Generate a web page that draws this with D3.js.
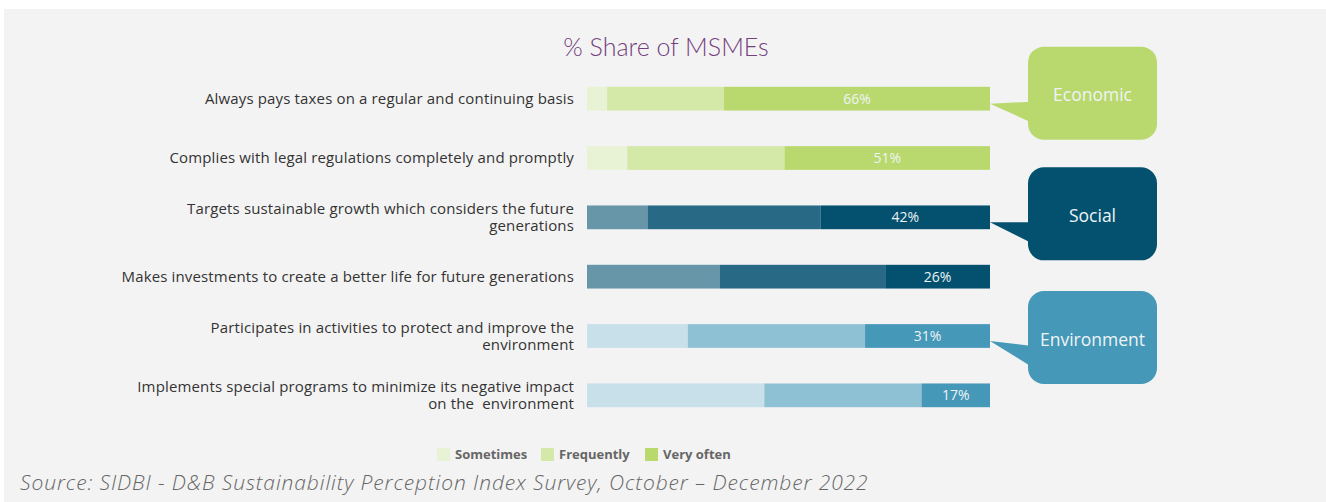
<!DOCTYPE html>
<html>
<head>
<meta charset="utf-8">
<script src="https://cdn.jsdelivr.net/npm/d3@7"></script>
<style>
  body { margin: 0; background: #fff; }
  svg { display: block; font-family: "Open Sans", Lato, sans-serif; }
</style>
</head>
<body>
<script>
// data
const labels = [
  ["Always pays taxes on a regular and continuing basis"],
  ["Complies with legal regulations completely and promptly"],
  ["Targets sustainable growth which considers the future", "generations"],
  ["Makes investments to create a better life for future generations"],
  ["Participates in activities to protect and improve the", "environment"],
  ["Implements special programs to minimize its negative impact", "on the  environment"]
];
const groups = ["Economic", "Economic", "Social", "Social", "Environment", "Environment"];
const sometimes = [5, 10, 15, 33, 25, 44];
const frequently = [29, 39, 43, 41, 44, 39];
const veryOften = [66, 51, 42, 26, 31, 17];
const seriesNames = ["Sometimes", "Frequently", "Very often"];
const categories = ["Economic", "Social", "Environment"];

const palette = {
  Economic: ["#e8f2d4", "#d4e8a7", "#b9d96e"],
  Social: ["#6796a9", "#286a86", "#03516f"],
  Environment: ["#c7e0e9", "#8fc1d4", "#4598b7"]
};

const width = 1326, height = 502;

const svg = d3.select("body").append("svg")
    .attr("width", width)
    .attr("height", height);

svg.append("rect")
    .attr("x", 4).attr("y", 9)
    .attr("width", width - 4).attr("height", height - 9)
    .attr("fill", "#f3f3f3");

const rows = labels.map((l, i) => ({
  i, label: l, group: groups[i],
  Sometimes: sometimes[i], Frequently: frequently[i], "Very often": veryOften[i]
}));

const x = d3.scaleLinear().domain([0, 100]).range([587, 990]);
const y = d3.scaleBand().domain(d3.range(rows.length)).range([69, 425]).paddingInner(0.6).paddingOuter(0.3);

const stack = d3.stack().keys(seriesNames)(rows);

// title
svg.append("text")
    .attr("x", 666).attr("y", 56)
    .attr("text-anchor", "middle")
    .attr("fill", "#743f7e")
    .style("font-family", "Lato, sans-serif")
    .style("font-size", "25px")
    .style("font-weight", 300)
    .text("% Share of MSMEs");

// bars
stack.forEach((layer, k) => {
  svg.append("g").selectAll("rect")
    .data(layer)
    .join("rect")
    .attr("x", d => x(d[0]))
    .attr("width", d => x(d[1]) - x(d[0]))
    .attr("y", (d, i) => y(i))
    .attr("height", y.bandwidth())
    .attr("fill", (d, i) => palette[rows[i].group][k]);
});

// value labels on "Very often"
svg.append("g").selectAll("text")
  .data(stack[2])
  .join("text")
  .attr("x", d => (x(d[0]) + x(d[1])) / 2)
  .attr("y", (d, i) => y(i) + y.bandwidth() / 2 + 5)
  .attr("text-anchor", "middle")
  .attr("fill", "#eef3f5")
  .style("font-size", "14px")
  .text(d => d.data["Very often"] + "%");

// category labels
const lab = svg.append("g").selectAll("text")
  .data(rows)
  .join("text")
  .attr("text-anchor", "end")
  .attr("fill", "#333")
  .style("font-size", "15px")
  .style("letter-spacing", "0.15px")
  .attr("xml:space", "preserve")
  .attr("transform", d => {
    const cy = y(d.i) + y.bandwidth() / 2;
    const off = d.label.length > 1 ? -8 : 0;
    return `translate(574,${cy + off + 5})`;
  });
lab.selectAll("tspan")
  .data(d => d.label)
  .join("tspan")
  .attr("x", 0)
  .attr("dy", (d, i) => i === 0 ? 0 : 16.5)
  .text(d => d);

// callouts
const boxShift = { Economic: -52, Social: -50, Environment: -45 };
categories.forEach(cat => {
  const first = rows.find(r => r.group === cat).i;
  const cy = y(first) + y.bandwidth() / 2;
  const top = cy + boxShift[cat], left = 1028, w = 129, h = 93;
  const col = palette[cat][2];
  const tipX = x(100), tipY = cy + 5;
  svg.append("path")
      .attr("d", `M${tipX},${tipY} L${left + 4},${top + 55} L${left + 4},${top + 76} Z`)
      .attr("fill", col);
  svg.append("rect")
      .attr("x", left).attr("y", top)
      .attr("width", w).attr("height", h)
      .attr("rx", 16)
      .attr("fill", col);
  svg.append("text")
      .attr("x", left + w / 2).attr("y", top + h / 2 + 8)
      .attr("text-anchor", "middle")
      .attr("fill", "#eef4f6")
      .style("font-size", "17.5px")
      .text(cat);
});

// legend
const legend = svg.append("g").attr("transform", "translate(437,448)");
const legX = [0, 104, 208];
seriesNames.forEach((s, k) => {
  const g = legend.append("g").attr("transform", `translate(${legX[k]},0)`);
  g.append("rect").attr("width", 13).attr("height", 13).attr("fill", palette.Economic[k]);
  g.append("text")
      .attr("x", 18).attr("y", 11)
      .attr("fill", "#666")
      .style("font-size", "13px")
      .style("font-weight", 700)
      .text(s);
});

// source
svg.append("text")
    .attr("x", 20).attr("y", 490)
    .attr("fill", "#666")
    .style("font-size", "21px")
    .style("letter-spacing", "0.9px")
    .style("font-style", "italic")
    .style("font-weight", 300)
    .text("Source: SIDBI - D&B Sustainability Perception Index Survey, October \u2013 December 2022");
</script>
</body>
</html>
